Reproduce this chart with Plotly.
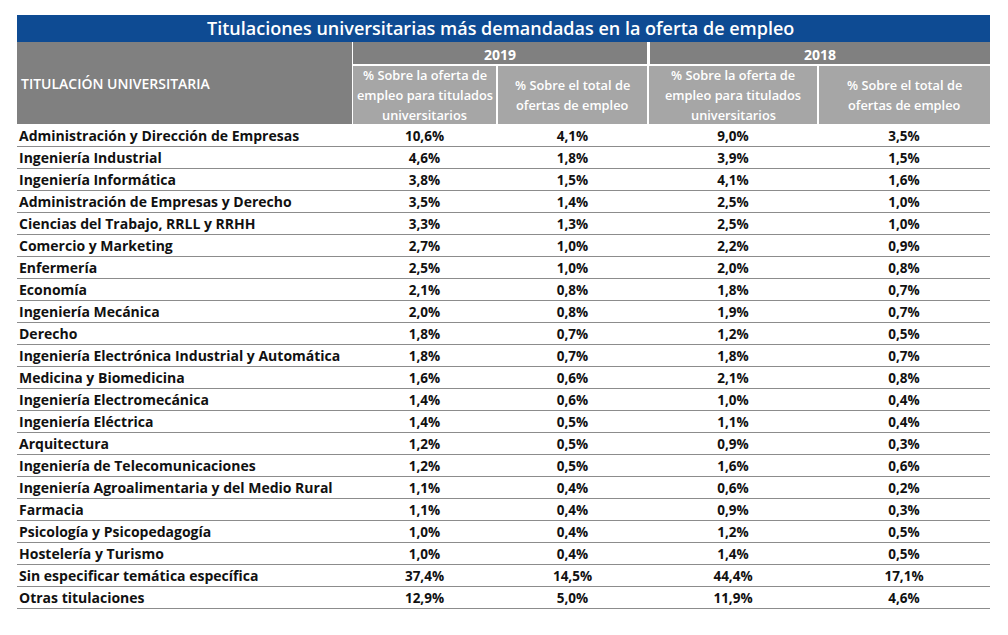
import plotly.graph_objects as go

# ---------------- data ----------------
title = "Titulaciones universitarias más demandadas en la oferta de empleo"
row_header = "TITULACIÓN UNIVERSITARIA"
years = ["2019", "2018"]
sub_headers = [
    ["% Sobre la oferta de", "empleo para titulados", "universitarios"],
    ["% Sobre el total de", "ofertas de empleo"],
    ["% Sobre la oferta de", "empleo para titulados", "universitarios"],
    ["% Sobre el total de", "ofertas de empleo"],
]
titulaciones = [
    "Administración y Dirección de Empresas",
    "Ingeniería Industrial",
    "Ingeniería Informática",
    "Administración de Empresas y Derecho",
    "Ciencias del Trabajo, RRLL y RRHH",
    "Comercio y Marketing",
    "Enfermería",
    "Economía",
    "Ingeniería Mecánica",
    "Derecho",
    "Ingeniería Electrónica Industrial y Automática",
    "Medicina y Biomedicina",
    "Ingeniería Electromecánica",
    "Ingeniería Eléctrica",
    "Arquitectura",
    "Ingeniería de Telecomunicaciones",
    "Ingeniería Agroalimentaria y del Medio Rural",
    "Farmacia",
    "Psicología y Psicopedagogía",
    "Hostelería y Turismo",
    "Sin especificar temática específica",
    "Otras titulaciones",
]
pct_univ_2019 = [10.6, 4.6, 3.8, 3.5, 3.3, 2.7, 2.5, 2.1, 2.0, 1.8, 1.8, 1.6, 1.4, 1.4, 1.2, 1.2, 1.1, 1.1, 1.0, 1.0, 37.4, 12.9]
pct_total_2019 = [4.1, 1.8, 1.5, 1.4, 1.3, 1.0, 1.0, 0.8, 0.8, 0.7, 0.7, 0.6, 0.6, 0.5, 0.5, 0.5, 0.4, 0.4, 0.4, 0.4, 14.5, 5.0]
pct_univ_2018 = [9.0, 3.9, 4.1, 2.5, 2.5, 2.2, 2.0, 1.8, 1.9, 1.2, 1.8, 2.1, 1.0, 1.1, 0.9, 1.6, 0.6, 0.9, 1.2, 1.4, 44.4, 11.9]
pct_total_2018 = [3.5, 1.5, 1.6, 1.0, 1.0, 0.9, 0.8, 0.7, 0.7, 0.5, 0.7, 0.8, 0.4, 0.4, 0.3, 0.6, 0.2, 0.3, 0.5, 0.5, 17.1, 4.6]

# ---------------- layout geometry (screen pixels) ----------------
W, H = 1008, 635
PAGE_OFF = 8  # default body margin of the html page
LEFT, RIGHT = 17, 990
col_widths = [335, 145, 151, 170, 172]
TITLE_TOP, TITLE_BOT = 15, 42
YEAR_BOT = 64
SUB_TOP = 66
DATA_TOP, DATA_BOT = 124, 608
ROW_SHIFT = 0.1  # vertical nudge of row text (fraction of a row)

BLUE = "#0E4B93"
DARK_GRAY = "#808080"
LIGHT_GRAY = "#A6A6A6"
LINE_GRAY = "#8C8C8C"
FONT = "'Open Sans', Lato, sans-serif"


def fx(px):
    return (px - PAGE_OFF) / W


def fy(py):
    return 1 - (py - PAGE_OFF) / H


bounds = [0]
for w in col_widths:
    bounds.append(bounds[-1] + w)
centers = [(bounds[i] + bounds[i + 1]) / 2 for i in range(len(col_widths))]
n = len(titulaciones)
rows = list(range(n))


def fmt(v):
    return f"{v:.1f}".replace(".", ",") + "%"


fig = go.Figure()

# names column
fig.add_trace(go.Scatter(
    x=[2] * n, y=rows, mode="text", text=titulaciones,
    textposition="middle right",
    textfont=dict(family=FONT, size=14, color="#111111", weight="bold"),
    hoverinfo="skip", showlegend=False,
))
for ci, series in enumerate([pct_univ_2019, pct_total_2019, pct_univ_2018, pct_total_2018]):
    fig.add_trace(go.Scatter(
        x=[centers[ci + 1]] * n, y=rows, mode="text",
        text=[fmt(v) for v in series], textposition="middle center",
        textfont=dict(family=FONT, size=13.5, color="#111111", weight="bold"),
        hoverinfo="skip", showlegend=False,
    ))

shapes = []
annotations = []


def rect(x0, y0, x1, y1, color):
    shapes.append(dict(type="rect", xref="paper", yref="paper",
                       x0=fx(x0), x1=fx(x1), y0=fy(y1), y1=fy(y0),
                       fillcolor=color, line=dict(width=0), layer="below"))


def text(x, y, s, size, xanchor="center", color="white", weight=600):
    annotations.append(dict(xref="paper", yref="paper", x=fx(x), y=fy(y),
                            text=s, showarrow=False, xanchor=xanchor, yanchor="middle",
                            font=dict(family=FONT, size=size, color=color, weight=weight)))


px_b = [LEFT + b for b in bounds]

# title bar
rect(LEFT, TITLE_TOP, RIGHT, TITLE_BOT, BLUE)
text((LEFT + RIGHT) / 2 - 3, (TITLE_TOP + TITLE_BOT) / 2, title, 18, weight=600)

# left header
rect(LEFT, TITLE_BOT, px_b[1], DATA_TOP, DARK_GRAY)
text(LEFT + 2, (TITLE_BOT + DATA_TOP) / 2, row_header, 14, xanchor="left")

# year headers
for yi, yr in enumerate(years):
    x0 = px_b[1 + 2 * yi] + (1 if yi == 0 else 2)
    x1 = px_b[3 + 2 * yi] - (1 if yi == 0 else 0)
    rect(x0, TITLE_BOT, x1, YEAR_BOT, DARK_GRAY)
    text((x0 + x1) / 2, (TITLE_BOT + YEAR_BOT) / 2 + 1, yr, 14, weight=700)

# sub headers
for si, lines in enumerate(sub_headers):
    x0 = px_b[1 + si] + 1
    x1 = px_b[2 + si] - (1 if si < 3 else 0)
    rect(x0, SUB_TOP, x1, DATA_TOP, LIGHT_GRAY)
    mid = (SUB_TOP + DATA_TOP) / 2
    k = len(lines)
    for li, ln in enumerate(lines):
        text((x0 + x1) / 2, mid + (li - (k - 1) / 2) * 20, ln, 12.8)

fig.update_layout(
    width=W, height=H, margin=dict(l=0, r=0, t=0, b=0),
    paper_bgcolor="white", plot_bgcolor="white",
    shapes=shapes, annotations=annotations,
    xaxis=dict(domain=[fx(LEFT), fx(RIGHT)], range=[bounds[0], bounds[-1]],
               showgrid=False, zeroline=False, showticklabels=False, ticks="",
               showline=True, linecolor=LINE_GRAY, linewidth=1, fixedrange=True),
    yaxis=dict(domain=[fy(DATA_BOT), fy(DATA_TOP)],
               range=[n - 0.5 - ROW_SHIFT, -0.5 - ROW_SHIFT],
               tickvals=[i + 0.5 - ROW_SHIFT for i in range(n - 1)],
               showticklabels=False, ticks="",
               showgrid=True, gridcolor=LINE_GRAY, gridwidth=1, zeroline=False,
               fixedrange=True),
)

fig.write_html("out.html")
